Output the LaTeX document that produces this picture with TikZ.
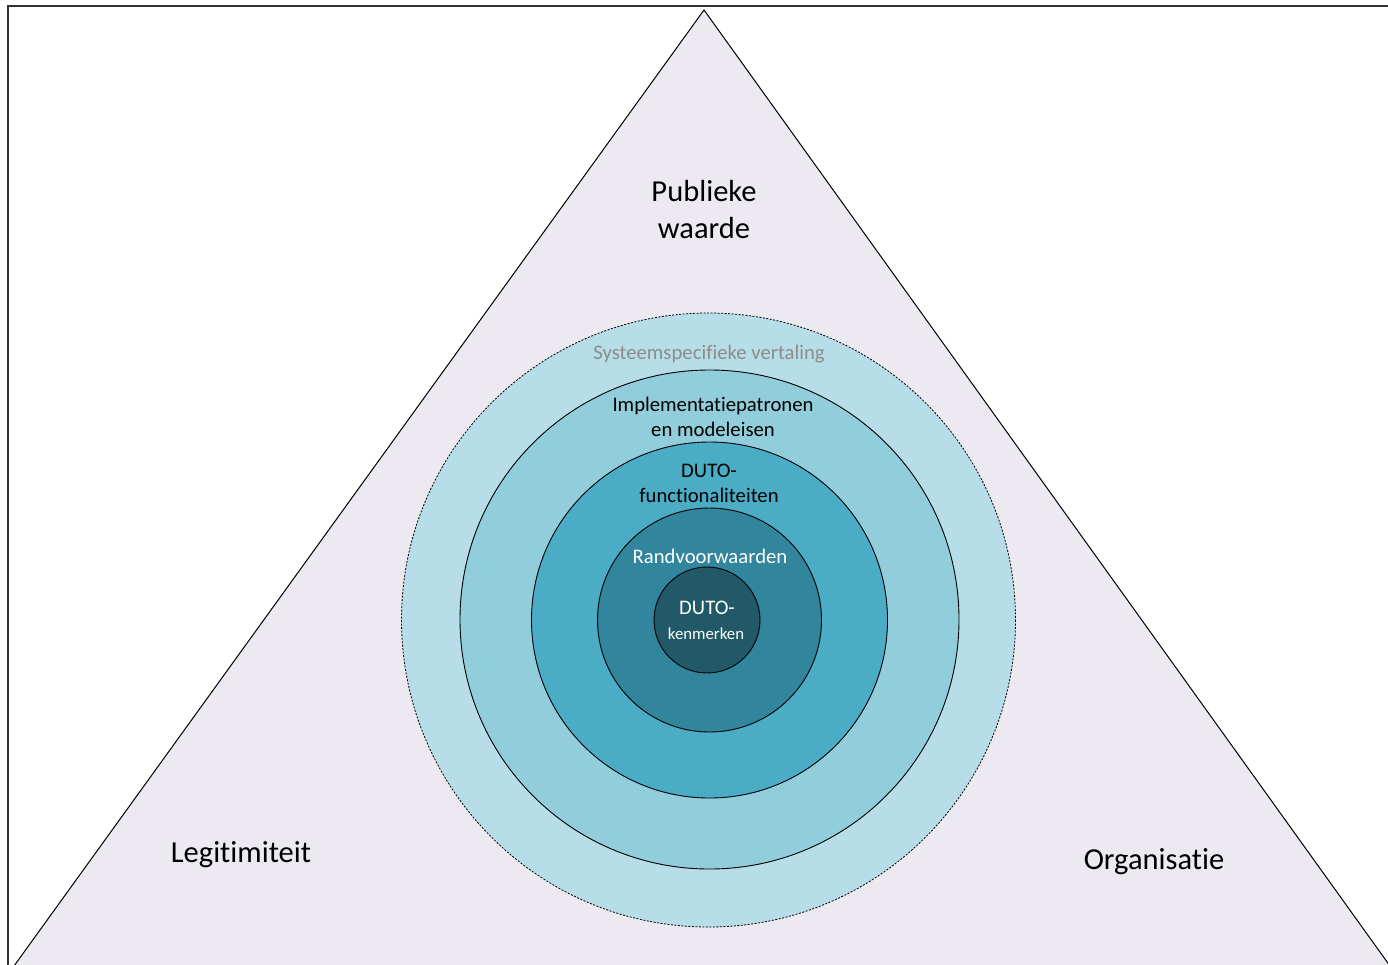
\documentclass[tikz,border=0pt]{standalone}
\usepackage{fontspec}
\setmainfont{Carlito}[RawFeature={-liga}]
\definecolor{tri}{HTML}{ECE9F1}
\definecolor{c1}{HTML}{B7DEE8}
\definecolor{c2}{HTML}{92CDDC}
\definecolor{c3}{HTML}{4BACC6}
\definecolor{c4}{HTML}{31859C}
\definecolor{c5}{HTML}{215968}
\definecolor{graytxt}{HTML}{8C8C8C}
\tikzset{
  ring/.style={draw=black, line width=0.9pt},
  bigtxt/.style={font=\fontsize{30.5}{37}\selectfont, align=center, inner sep=0pt},
  midtxt/.style={font=\fontsize{20.7}{25}\selectfont, align=center, inner sep=0pt},
  smalltxt/.style={font=\fontsize{16.8}{20}\selectfont, inner sep=0pt}
}
\begin{document}
\begin{tikzpicture}[x=1pt,y=-1pt]
\useasboundingbox (0,0) rectangle (1388,964);
\begin{scope}
\clip (0,0) rectangle (1388,964);
\fill[white] (0,0) rectangle (1388,964);
% frame
\draw[line width=2.6pt, draw=black!80] (8,6) rectangle (1400,980);
% triangle
\filldraw[fill=tri, draw=black, line width=1pt] (704,10) -- (14,966) -- (1390,966) -- cycle;
% circles
\filldraw[fill=c1, draw=black, line width=0.8pt, dash pattern=on 2pt off 1.5pt] (708.5,620) circle (307);
\filldraw[ring, fill=c2] (709.5,619.5) circle (249.5);
\filldraw[ring, fill=c3] (709.5,620) circle (178);
\filldraw[ring, fill=c4] (709.5,620) circle (112);
\filldraw[ring, fill=c5] (707,620) circle (53);
\end{scope}
% texts
\node[bigtxt] (pw) at (704,210) {Publieke\\waarde};
\node[bigtxt, anchor=center] (leg) at (241,855) {Legitimiteit};
\node[bigtxt, anchor=center] (org) at (1154,862) {Organisatie};
\node[midtxt, text=graytxt] (sys) at (709,354) {Systeemspecifieke vertaling};
\node[midtxt] (imp) at (713,417) {Implementatiepatronen\\en modeleisen};
\node[midtxt] (fun) at (709,483) {DUTO-\\functionaliteiten};
\node[midtxt, text=white] (rand) at (710,556) {Randvoorwaarden};
\node[midtxt, text=white] (duto) at (707,608) {DUTO-};
\node[smalltxt, text=white] (ken) at (706,634) {kenmerken};
\end{tikzpicture}
\end{document}
